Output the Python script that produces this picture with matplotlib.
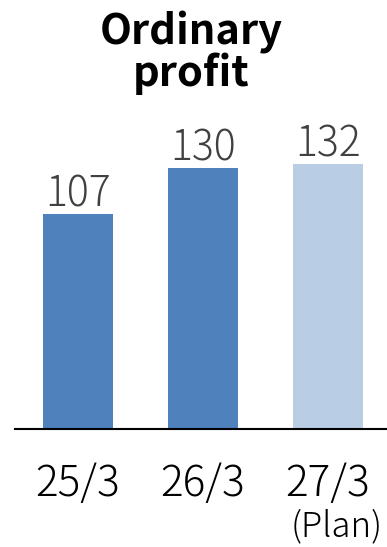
import matplotlib
matplotlib.use("Agg")
import matplotlib.pyplot as plt

# Ordinary profit by fiscal year (last year is the plan)
periods = ["25/3", "26/3", "27/3"]
profit = [107, 130, 132]
is_plan = [False, False, True]
plan_note = "(Plan)"

ACTUAL_COLOR = "#4F81BD"
PLAN_COLOR = "#B9CDE5"
FONT = ["Noto Sans CJK JP", "DejaVu Sans"]

W, H, DPI = 387, 547, 100
fig = plt.figure(figsize=(W / DPI, H / DPI), dpi=DPI)

# axes placement in pixels
left_px, right_px = 15, 387
base_px = 429          # y of the baseline, measured from the top
ymax = 150
px_per_unit = 2.01
height_px = ymax * px_per_unit
ax = fig.add_axes([left_px / W, (H - base_px) / H,
                   (right_px - left_px) / W, height_px / H])

x = list(range(len(periods)))
colors = [PLAN_COLOR if p else ACTUAL_COLOR for p in is_plan]
bars = ax.bar(x, profit, width=0.56, color=colors, zorder=2)

ax.set_xlim(-0.504, 2.472)
ax.set_ylim(0, ymax)

for s in ["top", "right", "left"]:
    ax.spines[s].set_visible(False)
ax.spines["bottom"].set_linewidth(1.5)
ax.spines["bottom"].set_color("black")
ax.set_yticks([])

ax.set_xticks(x)
ax.set_xticklabels(periods, fontfamily=FONT, fontsize=30.5, fontweight="light",
                   color="#000000")
ax.tick_params(axis="x", length=0, pad=24)

# value labels above bars
for xi, v in zip(x, profit):
    ax.annotate(f"{v}", xy=(xi, v), xytext=(0, 5.5), textcoords="offset points",
                ha="center", va="baseline", fontfamily=FONT, fontsize=29.5,
                fontweight="light", color="#404040", annotation_clip=False)

# plan note beneath the last tick label
for xi, p in zip(x, is_plan):
    if p:
        ax.annotate(plan_note, xy=(xi, 0), xytext=(6.0, -77.5), textcoords="offset points",
                    ha="center", va="baseline", fontfamily=FONT, fontsize=25,
                    fontweight="light", color="#000000", annotation_clip=False)

# title (two lines)
fig.text(191 / W, 1 - 45 / H, "Ordinary", ha="center", va="baseline",
         fontfamily=FONT, fontsize=30, fontweight="bold", color="black")
fig.text(191 / W, 1 - 86 / H, "profit", ha="center", va="baseline",
         fontfamily=FONT, fontsize=30, fontweight="bold", color="black")

fig.savefig("out.png", dpi=DPI)
